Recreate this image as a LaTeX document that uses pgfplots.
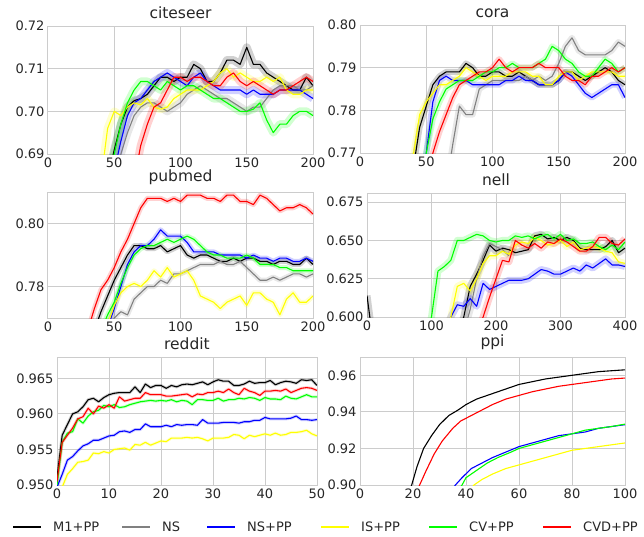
\documentclass[border=0pt]{standalone}
\usepackage{fontspec}
\setmainfont{DejaVu Sans}
\usepackage{pgfplots}
\usepackage{pgfplotstable}
\pgfplotsset{compat=1.18}

\definecolor{txt}{RGB}{38,38,38}
\definecolor{gridc}{RGB}{204,204,204}
\definecolor{cM}{RGB}{0,0,0}
\definecolor{cNS}{RGB}{128,128,128}
\definecolor{cNSP}{RGB}{0,0,255}
\definecolor{cIS}{RGB}{255,255,0}
\definecolor{cCV}{RGB}{0,255,0}
\definecolor{cCVD}{RGB}{255,0,0}

\pgfplotstableread{
x m1 ns nsp isp cv cvd
40 nan nan nan 0.684 nan nan
45 0.684 nan nan 0.696 0.684 nan
50 0.691 0.684 0.686 0.700 0.690 nan
55 0.697 0.690 0.693 0.699 0.697 nan
60 0.701 0.695 0.699 0.701 0.702 nan
65 0.7025 0.699 0.702 0.702 0.705 0.684
70 0.703 0.701 0.703 0.7015 0.707 0.692
75 0.704 0.702 0.705 0.703 0.707 0.697
80 0.706 0.702 0.707 0.701 0.706 0.701
85 0.708 0.701 0.708 0.7005 0.705 0.702
90 0.708 0.700 0.709 0.701 0.707 0.705
95 0.707 0.701 0.708 0.703 0.706 0.708
100 0.708 0.702 0.707 0.704 0.705 0.708
105 0.708 0.704 0.706 0.705 0.706 0.707
110 0.711 0.705 0.708 0.705 0.706 0.708
115 0.710 0.706 0.709 0.705 0.705 0.708
120 0.707 0.705 0.707 0.706 0.704 0.707
125 0.707 0.704 0.706 0.707 0.703 0.706
130 0.709 0.703 0.705 0.709 0.703 0.706
135 0.712 0.703 0.705 0.710 0.702 0.708
140 0.712 0.702 0.705 0.708 0.701 0.709
145 0.711 0.701 0.705 0.709 0.700 0.707
150 0.715 0.700 0.704 0.708 0.700 0.706
155 0.711 0.701 0.705 0.707 0.7005 0.707
160 0.711 0.701 0.704 0.707 0.702 0.706
165 0.709 0.703 0.704 0.708 0.698 0.705
170 0.708 0.705 0.704 0.707 0.695 0.704
175 0.707 0.706 0.705 0.708 0.697 0.705
180 0.706 0.706 0.705 0.705 0.697 0.705
185 0.705 0.706 0.705 0.704 0.699 0.706
190 0.705 0.705 0.705 0.704 0.700 0.707
195 0.708 0.705 0.704 0.705 0.700 0.708
200 0.706 0.706 0.703 0.705 0.699 0.707
}\citeseer

\pgfplotstableread{
x m1 ns nsp isp cv cvd
40 0.766 nan nan 0.769 nan nan
45 0.776 nan 0.762 0.779 0.762 nan
50 0.781 nan 0.770 0.782 0.770 0.762
55 0.786 nan 0.782 0.784 0.778 0.770
60 0.788 nan 0.787 0.786 0.782 0.775
65 0.789 0.762 0.788 0.786 0.785 0.779
70 0.789 0.772 0.787 0.787 0.786 0.783
75 0.789 0.781 0.787 0.788 0.787 0.786
80 0.791 0.779 0.787 0.790 0.787 0.787
85 0.790 0.779 0.786 0.789 0.787 0.788
90 0.788 0.785 0.786 0.788 0.788 0.789
95 0.788 0.786 0.786 0.787 0.789 0.789
100 0.789 0.787 0.786 0.788 0.789 0.790
105 0.789 0.787 0.786 0.788 0.790 0.792
110 0.788 0.787 0.787 0.788 0.790 0.790
115 0.788 0.787 0.787 0.789 0.791 0.789
120 0.789 0.787 0.788 0.789 0.790 0.790
125 0.788 0.788 0.787 0.789 0.790 0.790
130 0.787 0.787 0.787 0.788 0.790 0.790
135 0.786 0.788 0.786 0.788 0.791 0.791
140 0.786 0.787 0.786 0.786 0.792 0.790
145 0.786 0.788 0.786 0.786 0.795 0.790
150 0.787 0.791 0.787 0.788 0.794 0.790
155 0.789 0.795 0.789 0.789 0.792 0.788
160 0.789 0.797 0.788 0.789 0.791 0.787
165 0.788 0.794 0.786 0.787 0.789 0.787
170 0.787 0.793 0.784 0.788 0.788 0.786
175 0.788 0.793 0.783 0.789 0.788 0.788
180 0.789 0.793 0.784 0.789 0.790 0.788
185 0.790 0.793 0.785 0.789 0.792 0.789
190 0.789 0.794 0.786 0.789 0.791 0.790
195 0.787 0.796 0.786 0.788 0.789 0.789
200 0.786 0.795 0.783 0.788 0.790 0.790
}\cora

\pgfplotstableread{
x m1 ns nsp isp cv cvd
30 nan nan nan nan nan 0.766
35 0.766 nan nan nan nan 0.773
40 0.772 nan 0.764 0.764 0.766 0.779
45 0.777 0.765 0.767 0.768 0.771 0.782
50 0.782 0.770 0.773 0.774 0.775 0.786
55 0.786 0.772 0.780 0.778 0.781 0.791
60 0.790 0.771 0.787 0.780 0.786 0.795
65 0.793 0.776 0.791 0.781 0.790 0.800
70 0.793 0.778 0.793 0.780 0.792 0.805
75 0.792 0.780 0.793 0.782 0.793 0.808
80 0.792 0.780 0.795 0.785 0.793 0.808
85 0.793 0.782 0.798 0.783 0.794 0.808
90 0.791 0.781 0.796 0.786 0.795 0.807
95 0.792 0.784 0.796 0.783 0.794 0.808
100 0.793 0.784 0.796 0.784 0.795 0.807
105 0.790 0.785 0.794 0.785 0.796 0.809
110 0.789 0.786 0.791 0.782 0.795 0.809
115 0.790 0.787 0.791 0.777 0.793 0.809
120 0.790 0.787 0.791 0.776 0.791 0.808
125 0.789 0.787 0.791 0.775 0.790 0.808
130 0.788 0.788 0.790 0.773 0.790 0.807
135 0.788 0.787 0.790 0.775 0.789 0.809
140 0.789 0.787 0.790 0.776 0.789 0.809
145 0.788 0.788 0.790 0.777 0.789 0.807
150 0.789 0.786 0.789 0.774 0.790 0.807
155 0.789 0.784 0.790 0.778 0.789 0.806
160 0.788 0.782 0.789 0.778 0.787 0.809
165 0.788 0.782 0.789 0.776 0.787 0.808
170 0.787 0.783 0.788 0.775 0.787 0.806
175 0.788 0.782 0.789 0.771 0.786 0.804
180 0.788 0.783 0.789 0.776 0.786 0.805
185 0.787 0.784 0.788 0.778 0.785 0.805
190 0.787 0.784 0.788 0.775 0.785 0.806
195 0.789 0.783 0.789 0.775 0.785 0.805
200 0.787 0.784 0.788 0.777 0.785 0.803
}\pubmed

\pgfplotstableread{
x m1 ns nsp isp cv cvd
0 0.614 nan nan nan nan nan
5 0.598 nan nan nan nan nan
10 0.590 nan nan nan nan nan
90 0.590 nan nan nan 0.585 nan
100 0.590 nan nan nan 0.600 nan
110 0.590 nan nan nan 0.630 nan
120 0.590 nan 0.590 0.590 0.633 nan
130 0.590 nan 0.600 0.600 0.637 nan
140 0.590 nan 0.608 0.620 0.650 nan
150 0.600 0.590 0.607 0.622 0.650 nan
160 0.620 0.605 0.612 0.617 0.652 nan
170 0.628 0.625 0.607 0.625 0.654 0.590
180 0.637 0.640 0.622 0.635 0.653 0.600
190 0.647 0.648 0.618 0.640 0.650 0.613
200 0.643 0.646 0.620 0.640 0.649 0.625
210 0.645 0.644 0.622 0.643 0.650 0.637
220 0.644 0.640 0.624 0.641 0.650 0.636
230 0.642 nan 0.624 0.647 0.653 0.650
240 0.643 nan 0.624 0.649 0.652 0.647
250 0.644 nan 0.625 0.648 0.653 0.645
260 0.653 nan 0.628 0.652 0.651 0.648
270 0.654 nan 0.631 0.650 0.653 0.645
280 0.651 nan 0.630 0.647 0.654 0.649
290 0.652 nan 0.628 0.648 0.651 0.648
300 0.650 nan 0.628 0.650 0.654 0.651
310 0.652 nan 0.630 0.646 0.650 0.649
320 0.650 nan 0.632 0.649 0.651 0.646
330 0.645 nan 0.630 0.644 0.648 0.643
340 0.644 nan 0.634 0.645 0.648 0.643
350 0.644 nan 0.632 0.646 0.649 0.646
360 0.644 nan 0.635 0.645 0.646 0.652
370 0.646 nan 0.638 0.643 0.644 0.652
380 0.650 nan 0.634 0.642 0.647 0.648
390 0.642 nan 0.634 0.636 0.644 0.647
400 0.645 nan 0.633 0.635 0.649 0.651
}\nell

\pgfplotstableread{
x m1 nsp isp cv cvd
0 0.951 0.9497 0.948 0.950 0.9505
1 0.957 0.9515 0.9497 0.956 0.956
2 0.9585 0.9535 0.9515 0.9573 0.957
3 0.960 0.954 0.9523 0.9575 0.958
4 0.9603 0.9548 0.9532 0.9593 0.9593
5 0.961 0.9555 0.9533 0.9587 0.9596
6 0.962 0.9558 0.9535 0.9597 0.9608
7 0.9622 0.9563 0.9545 0.9603 0.960
8 0.9617 0.9563 0.9544 0.9605 0.9611
9 0.9623 0.9566 0.9547 0.9612 0.9608
10 0.9627 0.9569 0.9545 0.961 0.9613
11 0.9629 0.957 0.955 0.9613 0.9608
12 0.963 0.9575 0.9551 0.9609 0.9624
13 0.963 0.9576 0.9552 0.961 0.9618
14 0.963 0.9574 0.9549 0.9613 0.962
15 0.9638 0.9578 0.9557 0.9615 0.9622
16 0.963 0.9578 0.9556 0.9617 0.9622
17 0.9642 0.9586 0.956 0.9618 0.963
18 0.9637 0.9582 0.9556 0.9619 0.9627
19 0.964 0.9582 0.9559 0.9618 0.9627
20 0.964 0.9582 0.9562 0.9619 0.9627
21 0.9636 0.9584 0.9561 0.9618 0.9625
22 0.964 0.9582 0.9566 0.962 0.9625
23 0.9638 0.9585 0.9566 0.9617 0.9626
24 0.9641 0.9584 0.9566 0.9619 0.9627
25 0.9642 0.9585 0.9567 0.9618 0.9628
26 0.9641 0.9585 0.9566 0.9613 0.9624
27 0.9643 0.9584 0.9567 0.962 0.9628
28 0.9645 0.9592 0.9565 0.962 0.9627
29 0.9641 0.9587 0.9562 0.9619 0.963
30 0.9645 0.9587 0.9566 0.9619 0.963
31 0.9648 0.9587 0.9566 0.9622 0.9632
32 0.9646 0.9588 0.9566 0.9618 0.963
33 0.9646 0.9588 0.9567 0.962 0.9635
34 0.964 0.9588 0.9571 0.962 0.963
35 0.964 0.9587 0.957 0.9622 0.9627
36 0.9642 0.9589 0.9565 0.9621 0.9636
37 0.9646 0.9589 0.957 0.9623 0.9632
38 0.9643 0.9591 0.9568 0.9622 0.963
39 0.9644 0.9591 0.957 0.9619 0.9626
40 0.9644 0.9595 0.9572 0.9623 0.9632
41 0.9647 0.9593 0.957 0.9621 0.9632
42 0.9641 0.9593 0.9573 0.9621 0.9633
43 0.9644 0.9593 0.957 0.962 0.9632
44 0.9646 0.9593 0.9571 0.9625 0.9635
45 0.9645 0.9594 0.9574 0.9622 0.963
46 0.9643 0.9597 0.9574 0.9621 0.9633
47 0.9648 0.9592 0.9575 0.9624 0.9636
48 0.9647 0.9592 0.9577 0.9627 0.9637
49 0.9648 0.9591 0.9572 0.9624 0.9636
50 0.964 0.9592 0.9569 0.9624 0.9633
}\reddit

\newcommand{\band}[4]{\addplot[color=#3, line width=#4, opacity=0.18, line join=round, forget plot] table[x=x, y=#2] {#1};}
\newcommand{\curve}[3]{\addplot[color=#3, line width=1.1pt, line join=round, forget plot] table[x=x, y=#2] {#1};}
\newcommand{\allsix}[2]{%
  \band{#1}{m1}{cM}{#2}\band{#1}{ns}{cNS}{#2}\band{#1}{nsp}{cNSP}{#2}%
  \band{#1}{isp}{cIS}{#2}\band{#1}{cv}{cCV}{#2}\band{#1}{cvd}{cCVD}{#2}%
  \curve{#1}{m1}{cM}\curve{#1}{ns}{cNS}\curve{#1}{nsp}{cNSP}%
  \curve{#1}{isp}{cIS}\curve{#1}{cv}{cCV}\curve{#1}{cvd}{cCVD}}
% one legend swatch: colour, x of line start, text
\newcommand{\swatch}[3]{%
  \addplot[color=#1, line width=1.1pt] coordinates {(#2,0.5) (#2+28,0.5)};
  \node[anchor=west, inner sep=0pt, text=txt, font=\fontsize{13}{15}\selectfont] at (axis cs:#2+40,0.5) {#3};}

\pgfplotsset{
  panel/.style={
    scale only axis, anchor=south west,
    axis line style={draw=gridc, line width=1pt},
    grid=major, major grid style={draw=gridc, line width=1pt},
    major tick length=0pt,
    tick label style={font=\fontsize{13}{15}\selectfont, text=txt},
    /pgf/number format/assume math mode=true,
    yticklabel style={/pgf/number format/fixed, /pgf/number format/fixed zerofill, /pgf/number format/precision=2},
    scaled y ticks=false,
    title style={font=\fontsize{15.5}{18}\selectfont, text=txt, yshift=-2pt},
    unbounded coords=discard,
  },
  prec3/.style={yticklabel style={/pgf/number format/precision=3}},
}

\begin{document}
\begin{tikzpicture}
\path (0pt,0pt) rectangle (644pt,-536pt);

\begin{axis}[panel, at={(48pt,-154pt)}, width=265pt, height=128pt,
  title={citeseer}, xmin=0, xmax=200, ymin=0.69, ymax=0.72,
  xtick={0,50,100,150,200}, ytick={0.69,0.70,0.71,0.72}]
  \allsix{\citeseer}{8pt}
\end{axis}

\begin{axis}[panel, at={(360pt,-153pt)}, width=265pt, height=128pt,
  title={cora}, xmin=0, xmax=200, ymin=0.77, ymax=0.80,
  xtick={0,50,100,150,200}, ytick={0.77,0.78,0.79,0.80}]
  \allsix{\cora}{6pt}
\end{axis}

\begin{axis}[panel, at={(48pt,-318pt)}, width=265pt, height=126pt,
  title={pubmed}, xmin=0, xmax=200, ymin=0.77, ymax=0.81,
  xtick={0,50,100,150,200}, ytick={0.78,0.80}]
  \allsix{\pubmed}{5pt}
\end{axis}

\begin{axis}[panel, prec3, at={(367pt,-317pt)}, width=258pt, height=124pt,
  title={nell}, xmin=0, xmax=400, ymin=0.60, ymax=0.681,
  xtick={0,100,200,300,400}, ytick={0.600,0.625,0.650,0.675}]
  \allsix{\nell}{7pt}
\end{axis}

\begin{axis}[panel, prec3, at={(57pt,-485pt)}, width=260pt, height=128pt,
  title={reddit}, xmin=0, xmax=50, ymin=0.95, ymax=0.968,
  xtick={0,10,20,30,40,50}, ytick={0.950,0.955,0.960,0.965}]
  \band{\reddit}{m1}{cM}{3pt}\band{\reddit}{nsp}{cNSP}{3pt}\band{\reddit}{isp}{cIS}{3pt}
  \band{\reddit}{cv}{cCV}{3pt}\band{\reddit}{cvd}{cCVD}{3pt}
  \curve{\reddit}{m1}{cM}\curve{\reddit}{nsp}{cNSP}\curve{\reddit}{isp}{cIS}
  \curve{\reddit}{cv}{cCV}\curve{\reddit}{cvd}{cCVD}
\end{axis}

\begin{axis}[panel, at={(360pt,-485pt)}, width=265pt, height=128pt,
  title={ppi}, xmin=0, xmax=100, ymin=0.90, ymax=0.97,
  xtick={0,20,40,60,80,100}, ytick={0.90,0.92,0.94,0.96}]
  \addplot[color=cM, line width=1.1pt] coordinates {(18,0.895)(19.5,0.900)(21.5,0.910)(24,0.920)(27,0.927)(30,0.933)(33.5,0.938)(37,0.941)(40,0.944)(44,0.947)(48,0.949)(52,0.951)(56,0.953)(60,0.955)(65,0.9565)(70,0.958)(75,0.959)(80,0.960)(85,0.961)(90,0.962)(95,0.9625)(100,0.963)};
  \addplot[color=cNSP, line width=1.1pt] coordinates {(35,0.898)(36,0.900)(38.5,0.904)(42,0.909)(46,0.912)(50,0.915)(55,0.918)(60,0.921)(65,0.923)(70,0.925)(75,0.927)(80,0.928)(85,0.929)(90,0.931)(95,0.932)(100,0.933)};
  \addplot[color=cIS, line width=1.1pt] coordinates {(42,0.898)(43,0.900)(46,0.903)(50,0.906)(55,0.909)(60,0.911)(65,0.913)(70,0.915)(75,0.917)(80,0.919)(85,0.920)(90,0.921)(95,0.922)(100,0.923)};
  \addplot[color=cCV, line width=1.1pt] coordinates {(37.5,0.898)(38.5,0.900)(40,0.904)(44,0.908)(48,0.912)(52,0.915)(57,0.918)(60,0.920)(65,0.922)(70,0.924)(75,0.926)(80,0.928)(85,0.930)(90,0.931)(95,0.932)(100,0.9333)};
  \addplot[color=cCVD, line width=1.1pt] coordinates {(21,0.895)(22.5,0.900)(25,0.908)(28,0.917)(31,0.924)(35,0.931)(38,0.935)(42,0.938)(46,0.941)(50,0.944)(55,0.947)(60,0.949)(65,0.951)(70,0.9525)(75,0.954)(80,0.955)(85,0.956)(90,0.957)(95,0.958)(100,0.9585)};
\end{axis}

% legend row
\begin{axis}[at={(0pt,-536pt)}, anchor=south west, scale only axis,
  width=644pt, height=18pt, xmin=0, xmax=644, ymin=0, ymax=1,
  hide axis, clip=false]
  \swatch{cM}{13}{M1+PP}
  \swatch{cNS}{122}{NS}
  \swatch{cNSP}{207}{NS+PP}
  \swatch{cIS}{321}{IS+PP}
  \swatch{cCV}{429}{CV+PP}
  \swatch{cCVD}{543}{CVD+PP}
\end{axis}
\end{tikzpicture}
\end{document}
